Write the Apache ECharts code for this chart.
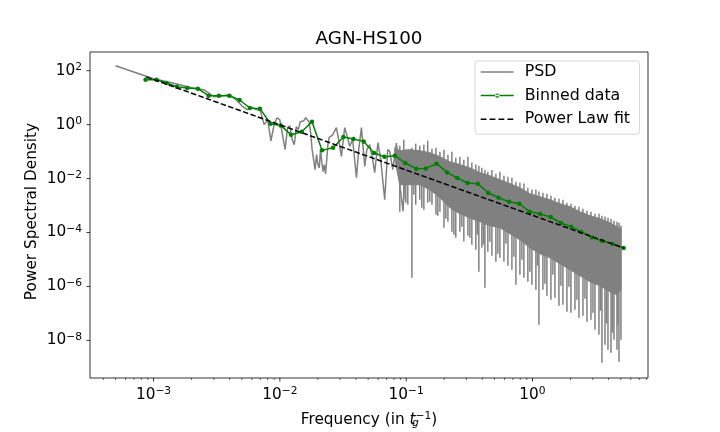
<!DOCTYPE html>
<html>
<head>
<meta charset="utf-8">
<title>AGN-HS100</title>
<script src="https://cdn.jsdelivr.net/npm/echarts@6/dist/echarts.min.js"></script>
<style>
  html, body { margin: 0; padding: 0; background: #fff; }
  #chart { width: 720px; height: 432px; }
</style>
</head>
<body>
<div id="chart"></div>
<script>
// PSD, low frequencies (one point per frequency bin)
const psdFreq = [0.0005, 0.001, 0.0015, 0.002, 0.0025, 0.003, 0.0035, 0.004, 0.0045, 0.005,
  0.0055, 0.006, 0.0065, 0.007, 0.0075, 0.008, 0.0085, 0.009, 0.0095, 0.01,
  0.0105, 0.011, 0.0115, 0.012, 0.0125, 0.013, 0.0135, 0.014, 0.0145, 0.015,
  0.0155, 0.016, 0.0165, 0.017, 0.0175, 0.018, 0.0185, 0.019, 0.0195, 0.02,
  0.0205, 0.021, 0.0215, 0.022, 0.0225, 0.023, 0.0235, 0.024, 0.0245, 0.025,
  0.0262, 0.028, 0.0292, 0.0307, 0.0326, 0.0344, 0.0357, 0.0377, 0.0404, 0.0421,
  0.0442, 0.047, 0.0488, 0.0514, 0.0543, 0.0563, 0.0598, 0.0629, 0.0676, 0.0714,
  0.0741, 0.0783, 0.0838, 0.089, 0.0945, 0.0993];
const psdPower = [153, 50.5, 33, 23.4, 19.8, 10.9, 11.8, 12.9, 8.4, 5.0,
  3.6, 4.2, 3.6, 3.3, 1.0, 1.5, 0.25, 1.0, 1.8, 1.5,
  0.42, 0.118, 0.77, 0.91, 0.28, 0.18, 0.84, 0.65, 1.28, 1.08,
  1.4, 1.8, 1.97, 1.28, 0.55, 0.118, 0.05, 0.0213, 0.077, 0.033,
  0.025, 0.118, 0.039, 0.018, 0.033, 0.015, 0.05, 0.18, 0.33, 0.28,
  0.42, 0.77, 0.28, 0.066, 0.77, 0.33, 0.156, 0.28, 0.0108, 0.118,
  0.77, 0.0283, 0.118, 0.18, 0.05, 0.0165, 0.214, 0.05, 0.00165, 0.118,
  0.102, 0.0213, 0.209, 0.0059, 6.1e-4, 0.118];

// PSD, high frequencies: the dense band (upper / lower edge of the solid part)
const bandFreq = [0.0813, 0.089, 0.107, 0.128, 0.154, 0.185, 0.222, 0.266, 0.319, 0.384,
  0.46, 0.552, 0.662, 0.794, 0.953, 1.145, 1.374, 1.648, 1.977, 2.375,
  2.85, 3.42, 4.1, 4.66, 5.01];
const bandUpper = [0.14, 0.108, 0.118, 0.108, 0.091, 0.065, 0.042, 0.033, 0.025, 0.0165,
  0.0128, 0.0091, 0.0065, 0.0046, 0.00275, 0.00213, 0.00165, 0.00117, 9.1e-4, 5.9e-4,
  4.2e-4, 3.25e-4, 2.3e-4, 1.64e-4, 1.38e-4];
const bandLower = [0.05, 0.0059, 0.0059, 0.0059, 0.00387, 0.00196, 8.3e-4, 5.0e-4, 3.5e-4, 2.5e-4,
  1.79e-4, 1.51e-4, 9.0e-5, 5.4e-5, 2.74e-5, 1.64e-5, 1.16e-5, 7.0e-6, 4.2e-6, 2.5e-6,
  1.5e-6, 1.07e-6, 6.4e-7, 4.9e-7, 7.6e-7];

// PSD, high frequencies: individual spikes (top and bottom of each stroke)
const spikeFreq = [0.089, 0.0957, 0.103, 0.111, 0.119, 0.128, 0.138, 0.148, 0.16, 0.172,
  0.185, 0.199, 0.214, 0.23, 0.247, 0.266, 0.286, 0.308, 0.331, 0.356,
  0.376, 0.397, 0.42, 0.443, 0.477, 0.513, 0.552, 0.594, 0.639, 0.687,
  0.739, 0.795, 0.855, 0.919, 0.989, 1.064, 1.124, 1.209, 1.3, 1.399,
  1.505, 1.619, 1.741, 1.873, 2.015, 2.168, 2.332, 2.508, 2.698, 2.902,
  3.122, 3.358, 3.547, 3.748, 3.958, 4.182, 4.416, 4.665, 4.838, 5.017,
  0.0993, 0.1149, 0.1329, 0.1538, 0.178, 0.206, 0.2384, 0.2758, 0.3192, 0.366,
  0.4083, 0.4597, 0.5319, 0.6155, 0.7122, 0.8242, 0.9537, 1.094, 1.254, 1.451,
  1.679, 1.943, 2.248, 2.602, 3.01, 3.452, 3.851, 4.297, 4.75];
const spikeTop = [0.166, 0.276, 0.118, 0.14, 0.197, 0.166, 0.18, 0.254, 0.128, 0.14,
  0.099, 0.118, 0.077, 0.099, 0.059, 0.065, 0.05, 0.065, 0.039, 0.033,
  0.03, 0.025, 0.021, 0.018, 0.021, 0.0152, 0.018, 0.0128, 0.0117, 0.0108,
  0.0077, 0.007, 0.0065, 0.0046, 0.0039, 0.0039, 0.0033, 0.003, 0.00275, 0.00232,
  0.00195, 0.00179, 0.00165, 0.00128, 0.00117, 9.9e-4, 9.1e-4, 7.6e-4, 6.4e-4, 5.9e-4,
  5.0e-4, 5.0e-4, 4.2e-4, 3.9e-4, 3.5e-4, 3.25e-4, 2.7e-4, 2.5e-4, 2.3e-4, 1.8e-4,
  0.0768, 0.0836, 0.0768, 0.0648, 0.0501, 0.0356, 0.0276, 0.0213, 0.018, 0.0128,
  0.0108, 0.0091, 0.00704, 0.00544, 0.00387, 0.00275, 0.00195, 0.00165, 0.001275, 0.001075,
  8.3e-4, 6.44e-4, 4.57e-4, 3.54e-4, 2.74e-4, 2.31e-4, 1.79e-4, 1.51e-4, 9.8e-5];
const spikeBottom = [5.9e-4, 1.65e-3, 1.08e-3, 2.1e-6, 1.08e-3, 1.65e-3, 7.0e-4, 1.28e-3, 1.08e-3, 4.6e-4,
  5.9e-4, 1.51e-4, 2.5e-4, 1.07e-4, 6.4e-5, 1.07e-4, 4.6e-5, 7.6e-5, 3.5e-5, 2.3e-5,
  3.5e-6, 2.7e-5, 9.0e-7, 1.94e-5, 1.38e-5, 8.3e-6, 1.16e-5, 8.3e-6, 5.9e-6, 4.2e-6,
  1.16e-6, 2.7e-6, 2.1e-6, 1.5e-6, 1.16e-6, 7.6e-7, 3.8e-8, 7.6e-7, 4.5e-7, 3.2e-7,
  3.8e-7, 1.93e-7, 2.1e-7, 1.16e-7, 1.06e-7, 1.37e-7, 6.9e-8, 8.2e-8, 4.9e-8, 5.8e-8,
  2.5e-8, 1.62e-8, 1.49e-9, 6.9e-9, 4.5e-9, 3.5e-9, 1.06e-8, 4.5e-9, 1.62e-9, 1.06e-8,
  1.275e-3, 2.52e-3, 8.3e-4, 1.39e-3, 4.2e-4, 3.25e-4, 8.3e-5, 1.64e-4, 6.4e-5, 8.3e-5,
  3.53e-5, 4.56e-5, 1.64e-5, 3.85e-5, 1.27e-5, 9.8e-6, 3.5e-6, 5.9e-6, 1.26e-6, 2.7e-6,
  1.07e-6, 9.8e-7, 3.2e-7, 3.5e-7, 1.06e-7, 1.26e-7, 4.2e-8, 1.93e-8, 3.8e-8];

// binned data
const binFreq = [8.64e-4, 1.057e-3, 1.268e-3, 1.531e-3, 1.849e-3, 2.244e-3, 2.728e-3, 3.29e-3, 3.98e-3, 4.8e-3,
  5.79e-3, 6.95e-3, 8.45e-3, 0.01014, 0.01224, 0.01489, 0.01796, 0.02157, 0.02636, 0.03187,
  0.0382, 0.0461, 0.0557, 0.0673, 0.0813, 0.0984, 0.1202, 0.1429, 0.1738, 0.2109,
  0.2531, 0.306, 0.369, 0.4455, 0.539, 0.653, 0.785, 0.948, 1.151, 1.391,
  1.679, 2.027, 2.432, 2.956, 3.567, 4.315, 5.27];
const binPower = [46.4, 46.4, 35.0, 25.5, 22.9, 21.5, 11.8, 11.8, 11.8, 8.2,
  4.14, 3.9, 1.08, 0.937, 0.424, 0.547, 1.285, 0.111, 0.14, 0.348,
  0.294, 0.239, 0.0888, 0.0648, 0.0705, 0.0378, 0.0232, 0.0238, 0.0356, 0.01695,
  0.0105, 0.00685, 0.00646, 0.00299, 0.00195, 0.00139, 0.00117, 5.91e-4, 4.86e-4, 3.76e-4,
  2.25e-4, 1.64e-4, 1.045e-4, 6.59e-5, 4.85e-5, 3.75e-5, 2.67e-5];

// power law fit (straight line in log-log, ends of the fitted range)
const fitFreq = [8.77e-4, 5.27];
const fitPower = [58.4, 2.67e-5];

// axis ticks
const xMajorTicks = [1e-3, 1e-2, 1e-1, 1];
const yMajorTicks = [1e2, 1, 1e-2, 1e-4, 1e-6, 1e-8];

const FONT = 'DejaVu Sans';
const xMin = 3.14e-4, xMax = 8.21;
const yMin = 4.03e-10, yMax = 493;

// minor ticks 2..9 x 10^k inside the x range
const xMinorTicks = [];
for (let d = -4; d <= 0; d++) {
  for (let m = 2; m <= 9; m++) {
    const v = m * Math.pow(10, d);
    if (v > xMin && v < xMax) xMinorTicks.push(v);
  }
}

function zip(a, b) {
  return a.map(function (v, i) { return [v, b[i]]; });
}

// 10^n labels with a real minus sign
function powLabel(v) {
  const e = Math.log10(v);
  const r = Math.round(e);
  if (Math.abs(e - r) > 1e-6) return '';
  return '{b|10}{s|' + (r < 0 ? '\u2212' + (-r) : r) + '}';
}

const labelRich = {
  b: { fontFamily: FONT, fontSize: 15.3, lineHeight: 18, color: '#000' },
  s: { fontFamily: FONT, fontSize: 10.7, lineHeight: 12, verticalAlign: 'top', color: '#000' }
};

// legend icons drawn in a 39x16 box
const psdIcon = 'path://M0,0h0.05v0.05h-0.05zM0,7.25h33v1.5h-33zM38.95,15.95h0.05v0.05h-0.05z';
const binIcon = 'path://M0,0h0.05v0.05h-0.05zM0,7.25h33v1.5h-33zM14.3,8a2.2,2.2 0 1,0 4.4,0a2.2,2.2 0 1,0 -4.4,0zM38.95,15.95h0.05v0.05h-0.05z';
const fitIcon = 'path://M0,0h0.05v0.05h-0.05zM0,7.25h5.8v1.5h-5.8zM8.9,7.25h5.8v1.5h-5.8zM17.8,7.25h5.8v1.5h-5.8zM26.7,7.25h5.8v1.5h-5.8zM38.95,15.95h0.05v0.05h-0.05z';

const chart = echarts.init(document.getElementById('chart'));

const option = {
  animation: false,
  backgroundColor: '#fff',
  title: {
    text: 'AGN-HS100',
    left: 369,
    top: 28,
    textAlign: 'center',
    padding: 0,
    textStyle: { fontFamily: FONT, fontSize: 18.3, fontWeight: 'normal', color: '#000', lineHeight: 22 }
  },
  legend: {
    data: [
      { name: 'PSD', icon: psdIcon },
      { name: 'Binned data', icon: binIcon },
      { name: 'Power Law fit', icon: fitIcon }
    ],
    orient: 'vertical',
    left: 475,
    top: 61,
    itemWidth: 39,
    itemHeight: 16,
    itemGap: 7.6,
    padding: [3, 9.5, 7, 5.7],
    backgroundColor: 'rgba(255,255,255,0.8)',
    borderColor: 'rgba(204,204,204,0.8)',
    borderWidth: 1,
    borderRadius: 3,
    itemStyle: { borderWidth: 0 },
    selectedMode: false,
    textStyle: { fontFamily: FONT, fontSize: 15.8, color: '#000', lineHeight: 16 }
  },
  grid: {
    left: 90,
    top: 52,
    width: 558,
    height: 326,
    containLabel: false,
    outerBoundsMode: 'none',
    show: true,
    borderColor: '#000',
    borderWidth: 0.8,
    backgroundColor: 'transparent'
  },
  xAxis: {
    type: 'log',
    min: xMin,
    max: xMax,
    splitNumber: 5,
    axisLine: { show: false },
    axisTick: { show: false },
    splitLine: { show: false },
    axisLabel: {
      margin: 8,
      showMinLabel: false,
      showMaxLabel: false,
      formatter: powLabel,
      rich: labelRich
    },
    name: '{a|Frequency (in }{t|t}{g|g}{s|\u22121}{a|)}',
    nameLocation: 'middle',
    nameGap: 33,
    nameTextStyle: {
      rich: {
        a: { fontFamily: FONT, fontSize: 15.3, lineHeight: 18, color: '#000' },
        t: { fontFamily: FONT, fontSize: 15.3, lineHeight: 18, fontStyle: 'italic', color: '#000' },
        g: { fontFamily: FONT, fontSize: 10.7, lineHeight: 12, fontStyle: 'italic', verticalAlign: 'bottom', width: 0.01, color: '#000' },
        s: { fontFamily: FONT, fontSize: 10.7, lineHeight: 12, verticalAlign: 'top', color: '#000' }
      }
    }
  },
  yAxis: {
    type: 'log',
    min: yMin,
    max: yMax,
    axisLine: { show: false },
    axisTick: { show: false },
    splitLine: { show: false },
    axisLabel: {
      margin: 8,
      customValues: yMajorTicks,
      showMinLabel: true,
      showMaxLabel: true,
      formatter: powLabel,
      rich: labelRich
    },
    name: 'Power Spectral Density',
    nameLocation: 'middle',
    nameGap: 49,
    nameMoveOverlap: false,
    nameTextStyle: { fontFamily: FONT, fontSize: 15.3, lineHeight: 18, color: '#000', padding: [0, 0, 0, 7] }
  },
  series: [
    {
      name: 'PSD',
      type: 'line',
      data: zip(psdFreq, psdPower),
      showSymbol: false,
      symbol: 'none',
      color: '#808080',
      lineStyle: { color: '#808080', width: 1.5 },
      z: 2
    },
    {
      name: 'PSD band',
      type: 'custom',
      data: [[bandFreq[0], bandUpper[0]]],
      clip: true,
      z: 2,
      renderItem: function (params, api) {
        const pts = [];
        for (let i = 0; i < bandFreq.length; i++) pts.push(api.coord([bandFreq[i], bandUpper[i]]));
        for (let i = bandFreq.length - 1; i >= 0; i--) pts.push(api.coord([bandFreq[i], bandLower[i]]));
        return {
          type: 'polygon',
          shape: { points: pts },
          style: { fill: '#808080', stroke: '#808080', lineWidth: 1 }
        };
      }
    },
    {
      name: 'PSD spikes',
      type: 'custom',
      data: spikeFreq.map(function (f, i) { return [f, spikeTop[i], spikeBottom[i]]; }),
      encode: { x: 0, y: [1, 2] },
      clip: true,
      z: 2,
      renderItem: function (params, api) {
        const p1 = api.coord([api.value(0), api.value(1)]);
        const p2 = api.coord([api.value(0), api.value(2)]);
        return {
          type: 'line',
          shape: { x1: p1[0], y1: p1[1], x2: p2[0], y2: p2[1] },
          style: { stroke: '#808080', lineWidth: 1.5 }
        };
      }
    },
    {
      name: 'Binned data',
      type: 'line',
      data: zip(binFreq, binPower),
      symbol: 'circle',
      symbolSize: 4.5,
      color: '#008000',
      itemStyle: { color: '#008000', borderWidth: 0 },
      lineStyle: { color: '#008000', width: 1.5 },
      z: 3
    },
    {
      name: 'Power Law fit',
      type: 'line',
      data: zip(fitFreq, fitPower),
      symbol: 'none',
      color: '#000',
      lineStyle: { color: '#000', width: 1.5, type: [5.5, 2.4] },
      z: 4
    },
    {
      name: 'ticks',
      type: 'custom',
      data: [[1, 1]],
      clip: false,
      silent: true,
      z: 5,
      renderItem: function (params, api) {
        const corner = api.coord([xMin, yMin]);
        const left = corner[0], bottom = corner[1];
        const children = [];
        xMajorTicks.forEach(function (v) {
          const x = api.coord([v, yMin])[0];
          children.push({ type: 'line', shape: { x1: x, y1: bottom, x2: x, y2: bottom + 3.5 }, style: { stroke: '#000', lineWidth: 0.8 } });
        });
        xMinorTicks.forEach(function (v) {
          const x = api.coord([v, yMin])[0];
          children.push({ type: 'line', shape: { x1: x, y1: bottom, x2: x, y2: bottom + 2 }, style: { stroke: '#000', lineWidth: 0.6 } });
        });
        yMajorTicks.forEach(function (v) {
          const y = api.coord([xMin, v])[1];
          children.push({ type: 'line', shape: { x1: left - 3.5, y1: y, x2: left, y2: y }, style: { stroke: '#000', lineWidth: 0.8 } });
        });
        return { type: 'group', children: children };
      }
    }
  ]
};

chart.setOption(option);
</script>
</body>
</html>
